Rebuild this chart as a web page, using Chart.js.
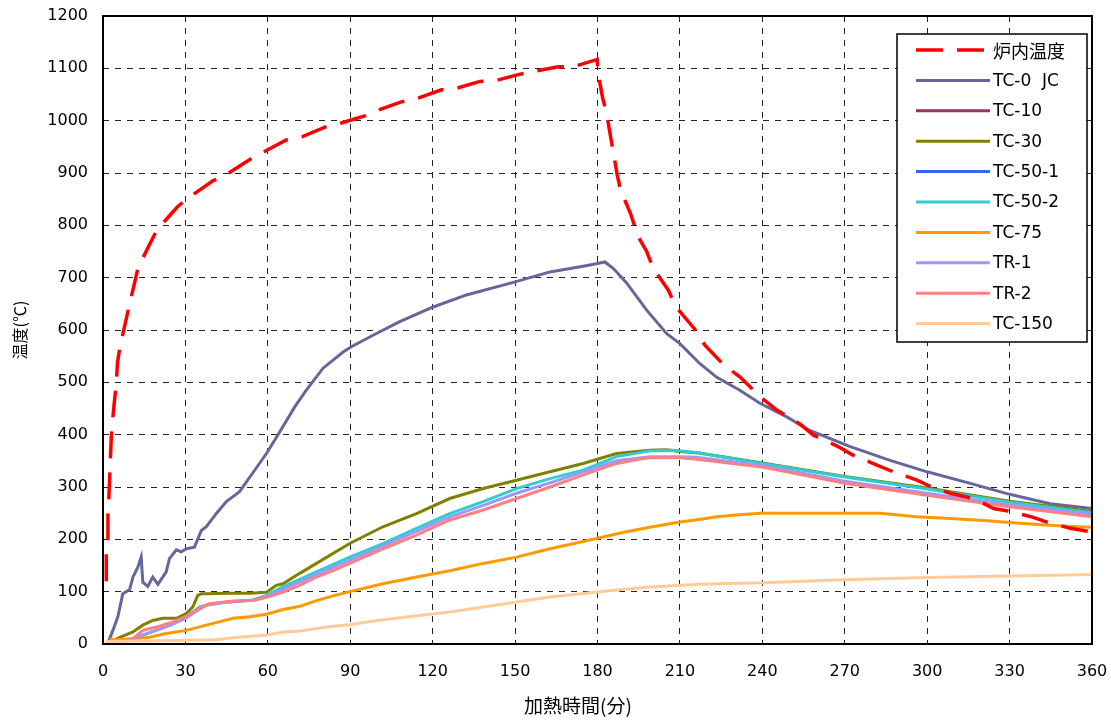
<!DOCTYPE html>
<html><head><meta charset="utf-8">
<script src="https://cdn.jsdelivr.net/npm/chart.js@4/dist/chart.umd.min.js"></script>
<style>html,body{margin:0;padding:0;background:#fff}#wrap{width:1111px;height:722px}</style>
</head><body><div id="wrap"><canvas id="c"></canvas></div>
<script>
// Axis ticks
const xTicks = [0,30,60,90,120,150,180,210,240,270,300,330,360];
const yTicks = [0,100,200,300,400,500,600,700,800,900,1000,1100,1200];
const xTitle = '加熱時間(分)';
const yTitle = '温度(℃)';
const seriesNames = ['炉内温度','TC-0  JC','TC-10','TC-30','TC-50-1','TC-50-2','TC-75','TR-1','TR-2','TC-150'];
const seriesColors = ['#FF0000','#666699','#993366','#808000','#3366FF','#33CCCC','#FF9900','#9999FF','#FF8080','#FFCC99'];

// [minutes, °C]
const furnace = [[1.2,120],[1.2,173],[1.8,198],[1.8,246],[2.1,275],[3,393],[3.4,422],[4.2,466],[4.8,495],[5.3,539],[6.3,571],[8.2,615],[9.4,644],[11.5,690],[12.7,718],[16.9,763],[19.6,791],[27.2,836],[31.8,855],[40,885],[45.5,899],[54.4,929],[58.8,941],[66.7,963],[72.4,969],[81,988],[86.4,995],[95.3,1009],[100.7,1021],[108,1035],[114.7,1043],[123.2,1059],[128.7,1062],[137.2,1075],[142.6,1076],[151.1,1088],[156.8,1094],[165.7,1103],[171.1,1103],[179.9,1117],[180.3,1087],[181.9,1043],[183.3,1014],[187.2,896],[188.4,867],[192,823],[194,791],[195.5,772],[197.9,750],[200.3,718],[205.8,676],[208.6,644],[215.5,601],[219.1,571],[226,533],[231.9,510],[239.5,471],[245.3,447],[253.8,420],[258.6,399],[267.7,377],[273,361],[281.7,342],[287.7,329],[296.3,313],[301.7,300],[308.4,288],[316.9,278],[324.2,259],[329.5,254],[338.1,243],[343.6,233],[352.1,221],[360,214]];
const tc0 = [[2,5],[2.4,10],[3.6,26],[5.4,52],[7.2,96],[9.7,104],[10.9,128],[12.7,147],[13.9,166],[14.5,118],[16.3,110],[18.1,128],[20,114],[23,138],[24.2,163],[26.7,180],[28.5,176],[30.3,182],[33.3,185],[35.8,217],[37.6,224],[41.2,249],[44.9,272],[49.7,291],[55.2,332],[59.5,364],[64.3,405],[69.8,453],[74,485],[80.1,527],[87.4,558],[90.4,568],[98.3,590],[108,616],[120.2,644],[132.3,667],[150,692],[162.7,711],[174.8,722],[180,727],[182.7,730],[185.7,718],[190.6,690],[197.9,638],[205.2,593],[210,574],[217.2,536],[223.3,510],[231.8,485],[239.1,460],[248.9,434],[256.8,409],[272,377],[286.5,351],[300,329],[315.7,307],[330,286],[344.8,268],[360,259]];
const tc10 = [];
const tc30 = [[4.8,10],[10.9,23],[14.5,36],[18.1,45],[21.8,49],[26.7,49],[30.3,58],[32.7,71],[34.5,93],[35.8,96],[37.6,96],[45,97],[53.4,97],[59.5,99],[63.1,112],[65.5,115],[71.6,135],[77.7,154],[89.8,192],[101.9,224],[114.1,249],[126.2,278],[138.4,297],[150.5,313],[162.7,329],[174.8,345],[186.9,364],[199,370],[205,371],[210,368],[217,365],[240,346],[270,320],[300,298],[330,273],[360,253]];
const tc50_1 = [];
const tc50_2 = [[6,5],[10,8],[15,18],[20,28],[25,38],[30.3,52],[35.2,71],[37.6,74],[45,80],[54.6,84],[59.5,93],[65.5,109],[77.7,138],[89.8,166],[101.9,192],[114.1,221],[126.2,249],[138.4,272],[150.5,297],[162.7,316],[174.8,332],[186.9,358],[199,369],[207.5,370],[216,366],[240,345],[270,319],[300,296],[330,271],[360,251]];
const tc75 = [[2.4,8],[10.9,10],[16.9,13],[23,20],[30.3,26],[37.6,36],[47.3,49],[53.4,52],[59.5,57],[65.5,66],[71.6,72],[77.7,83],[83.7,92],[89.8,100],[101.9,115],[114.1,128],[126.2,140],[138.4,154],[150.5,166],[162.7,182],[174.8,196],[180.8,203],[190,214],[199,223],[210,233],[217,238],[223.4,243],[229.4,246],[239.2,250],[282.9,250],[296.2,243],[308.4,240],[320.5,236],[338.7,229],[350.9,225],[360,223]];
const tr1 = [[6,6],[10,8],[15,18],[20,27],[25,37],[30,49],[35,66],[38,75],[45,80],[55,84],[59.5,91],[65.5,104],[77.7,133],[89.8,160],[101.9,187],[114.1,215],[126.2,243],[138.4,265],[150.5,288],[162.7,308],[174.8,329],[186.9,350],[199,358],[210,358],[216,357],[240,341],[270,311],[300,288],[330,266],[360,247]];
const tr2 = [[5,5],[10.9,10],[14.5,26],[20.6,34],[25.4,42],[30.3,53],[35.2,68],[38.8,77],[47.3,82],[54.6,83],[59.5,89],[65.5,99],[71.6,112],[77.7,128],[83.7,140],[89.8,154],[101.9,182],[114.1,208],[126.2,237],[138.4,256],[150.5,278],[162.7,300],[174.8,323],[186.9,345],[195,353],[199,356],[210,356],[216,353],[240,338],[270,307],[300,284],[330,262],[360,243]];
const tc150 = [[1,5],[20,6],[41.2,8],[47.3,12],[59.5,17],[65.5,23],[71.6,25],[83.7,34],[89.8,37],[95.9,42],[108,50],[126.2,61],[162.7,90],[186.9,103],[199.1,109],[217,114],[240.4,117],[269.5,123],[299.9,127],[330,130],[360,133]];

const seriesData = [furnace, tc0, tc10, tc30, tc50_1, tc50_2, tc75, tr1, tr2, tc150];

const datasets = seriesData.map((d, i) => ({
  label: seriesNames[i],
  data: d.map(p => ({x: p[0], y: p[1]})),
  borderColor: seriesColors[i],
  backgroundColor: seriesColors[i],
  borderWidth: i === 0 ? 3.5 : 3,
  borderDash: i === 0 ? [27, 14] : [],
  pointRadius: 0,
  tension: 0,
  fill: false,
  order: i === 0 ? -1 : 20 - i
}));

const FONT = "'DejaVu Sans', 'Noto Sans CJK JP', sans-serif";
const JFONT = "'Noto Sans CJK JP', 'DejaVu Sans', sans-serif";

const bgPlugin = {
  id: 'bg',
  beforeDraw(chart) {
    const ctx = chart.ctx;
    ctx.save(); ctx.fillStyle = '#fff'; ctx.fillRect(0, 0, chart.width, chart.height); ctx.restore();
  }
};
const framePlugin = {
  id: 'frame',
  afterDatasetsDraw(chart) {
    const {ctx, chartArea: a} = chart;
    ctx.save();
    ctx.strokeStyle = '#000'; ctx.lineWidth = 2; ctx.setLineDash([]);
    ctx.strokeRect(a.left, a.top, a.right - a.left, a.bottom - a.top);
    // x axis title
    ctx.fillStyle = '#000';
    ctx.font = '19px ' + JFONT;
    ctx.textAlign = 'center'; ctx.textBaseline = 'middle';
    ctx.fillText(xTitle, 578, 706);
    // legend box
    const bx = 897, by = 34, bw = 190, bh = 308;
    ctx.fillStyle = '#fff'; ctx.fillRect(bx, by, bw, bh);
    ctx.lineWidth = 1.5; ctx.strokeRect(bx, by, bw, bh);
    chart.data.datasets.forEach((ds, i) => {
      const y = 50 + i * 30.4;
      ctx.beginPath();
      ctx.strokeStyle = ds.borderColor;
      ctx.lineWidth = ds.borderWidth;
      ctx.setLineDash(ds.borderDash || []);
      ctx.moveTo(916, y); ctx.lineTo(990, y); ctx.stroke();
      ctx.setLineDash([]);
      ctx.fillStyle = '#000';
      ctx.font = (i === 0 ? '18px ' + JFONT : '17px ' + FONT);
      ctx.textBaseline = 'middle'; ctx.textAlign = 'left';
      ctx.fillText(ds.label, 993, y + 1);
    });
    ctx.restore();
  }
};

new Chart(document.getElementById('c'), {
  type: 'line',
  data: { datasets },
  plugins: [bgPlugin, framePlugin],
  options: {
    responsive: true, maintainAspectRatio: false, animation: false,
    layout: { padding: { top: 16, right: 19, bottom: 0, left: 0 } },
    plugins: { legend: { display: false }, tooltip: { enabled: false } },
    scales: {
      x: {
        type: 'linear', min: 0, max: 360,
        afterBuildTicks(s) { s.ticks = xTicks.map(v => ({value: v})); },
        afterFit(s) { s.height = 78; s.paddingLeft = 0; s.paddingRight = 0; },
        grid: { color: '#222', lineWidth: 1, drawTicks: false },
        border: { display: false, dash: [6, 6] },
        ticks: { color: '#000', font: { family: FONT, size: 16 }, padding: 18, maxRotation: 0, autoSkip: false, callback: v => String(v) },
        title: { display: false }
      },
      y: {
        type: 'linear', min: 0, max: 1200,
        afterBuildTicks(s) { s.ticks = yTicks.map(v => ({value: v})); },
        afterFit(s) { s.width = 103; s.paddingTop = 0; s.paddingBottom = 0; },
        grid: { color: '#222', lineWidth: 1, drawTicks: false },
        border: { display: false, dash: [6, 6] },
        ticks: { color: '#000', font: { family: FONT, size: 16 }, padding: 15, autoSkip: false, callback: v => String(v) },
        title: { display: true, text: yTitle, color: '#000', font: { family: JFONT, size: 16 }, padding: { top: 10, bottom: 0 } }
      }
    }
  }
});
</script></body></html>
